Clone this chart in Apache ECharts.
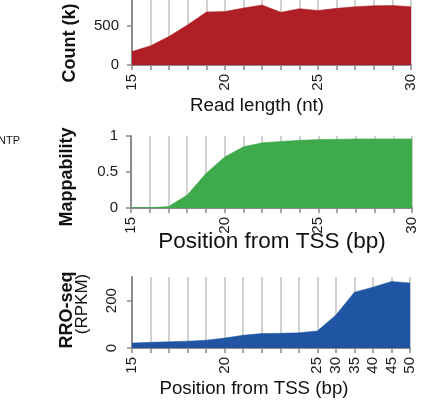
<!DOCTYPE html>
<html>
<head>
<meta charset="utf-8">
<script src="https://cdn.jsdelivr.net/npm/echarts@6/dist/echarts.min.js"></script>
<style>
  html, body { margin: 0; padding: 0; background: #fff; }
  #chart { width: 430px; height: 404px; }
</style>
</head>
<body>
<div id="chart"></div>
<script>
// read length counts (k)
var lengthCats = ['15','16','17','18','19','20','21','22','23','24','25','26','27','28','29','30'];
var countVals = [174, 247, 367, 517, 679, 687, 731, 769, 675, 722, 700, 726, 747, 760, 764, 747];

// mappability by position
var mapCats = ['15','16','17','18','19','20','21','22','23','24','25','26','27','28','29','30'];
var mapVals = [0.003, 0.006, 0.02, 0.18, 0.48, 0.71, 0.85, 0.906, 0.925, 0.94, 0.95, 0.955, 0.96, 0.96, 0.96, 0.96];

// RRO-seq signal (RPKM)
var rroCats = ['15','16','17','18','19','20','21','22','23','24','25','30','35','40','45','50'];
var rroVals = [21, 24, 26, 29, 33, 42, 54, 61, 62, 64, 72, 139, 236, 257, 281, 275];

var FONT = 'Liberation Sans, Arial, sans-serif';
var axisGray = '#8a8a8a';

function xAxisFor(idx, cats, showFn) {
  return {
    type: 'category', gridIndex: idx, data: cats, boundaryGap: false,
    axisLine: { lineStyle: { color: axisGray, width: 2 } },
    axisTick: { show: true, interval: 0, length: 5, lineStyle: { color: axisGray, width: 1.5 } },
    axisLabel: {
      rotate: 90, interval: showFn, margin: 9,
      color: '#1a1a1a', fontSize: 15, fontFamily: FONT
    },
    splitLine: { show: true, interval: 0, lineStyle: { color: '#c2c2c2', width: 1.5 } }
  };
}

function yAxisFor(idx, max, step, rot) {
  return {
    type: 'value', gridIndex: idx, min: 0, max: max, interval: step,
    axisLine: { show: true, lineStyle: { color: axisGray, width: 2 } },
    axisTick: { show: true, length: 5, lineStyle: { color: axisGray, width: 1.5 } },
    axisLabel: {
      rotate: rot, margin: 13, showMaxLabel: idx === 1,
      color: '#1a1a1a', fontSize: 15, fontFamily: FONT
    },
    splitLine: { show: false }
  };
}

function areaSeries(idx, vals, color) {
  return {
    type: 'line', xAxisIndex: idx, yAxisIndex: idx, data: vals,
    symbol: 'none', silent: true,
    lineStyle: { color: color, width: 0.5 },
    areaStyle: { color: color, opacity: 1 }
  };
}

var every5 = function (i) { return i % 5 === 0; };
var rroShow = function (i) { return i === 0 || i === 5 || i >= 10; };

var chart = echarts.init(document.getElementById('chart'));
chart.setOption({
  animation: false,
  backgroundColor: '#fff',
  grid: [
    { left: 132, top: -13, width: 279, height: 78, outerBoundsMode: 'none', containLabel: false },
    { left: 131, top: 136, width: 281, height: 72, outerBoundsMode: 'none', containLabel: false },
    { left: 132, top: 277, width: 278, height: 71, outerBoundsMode: 'none', containLabel: false }
  ],
  xAxis: [
    xAxisFor(0, lengthCats, every5),
    xAxisFor(1, mapCats, every5),
    xAxisFor(2, rroCats, rroShow)
  ],
  yAxis: [
    yAxisFor(0, 1000, 500, 0),
    yAxisFor(1, 1, 0.5, 0),
    yAxisFor(2, 300, 200, 90)
  ],
  series: [
    areaSeries(0, countVals, '#b01f26'),
    areaSeries(1, mapVals, '#3eaa4b'),
    areaSeries(2, rroVals, '#1f55a3')
  ],
  graphic: [
    { type: 'text', x: 70, y: 43, rotation: Math.PI / 2,
      style: { text: 'Count (k)', font: 'bold 18px ' + FONT, fill: '#111', align: 'center', verticalAlign: 'middle' } },
    { type: 'text', x: 257, y: 106,
      style: { text: 'Read length (nt)', font: '18.7px ' + FONT, fill: '#111', align: 'center', verticalAlign: 'middle' } },
    { type: 'text', x: 20, y: 141,
      style: { text: 'NTP', font: '11px ' + FONT, fill: '#111', align: 'right', verticalAlign: 'middle' } },
    { type: 'text', x: 67, y: 177, rotation: Math.PI / 2,
      style: { text: 'Mappability', font: 'bold 18px ' + FONT, fill: '#111', align: 'center', verticalAlign: 'middle' } },
    { type: 'text', x: 272, y: 242,
      style: { text: 'Position from TSS (bp)', font: '22.5px ' + FONT, fill: '#111', align: 'center', verticalAlign: 'middle' } },
    { type: 'text', x: 67, y: 310, rotation: Math.PI / 2,
      style: { text: 'RRO-seq', font: 'bold 18px ' + FONT, fill: '#111', align: 'center', verticalAlign: 'middle' } },
    { type: 'text', x: 82, y: 304, rotation: Math.PI / 2,
      style: { text: '(RPKM)', font: '17px ' + FONT, fill: '#111', align: 'center', verticalAlign: 'middle' } },
    { type: 'text', x: 254, y: 389,
      style: { text: 'Position from TSS (bp)', font: '18.7px ' + FONT, fill: '#111', align: 'center', verticalAlign: 'middle' } }
  ]
});
</script>
</body>
</html>
